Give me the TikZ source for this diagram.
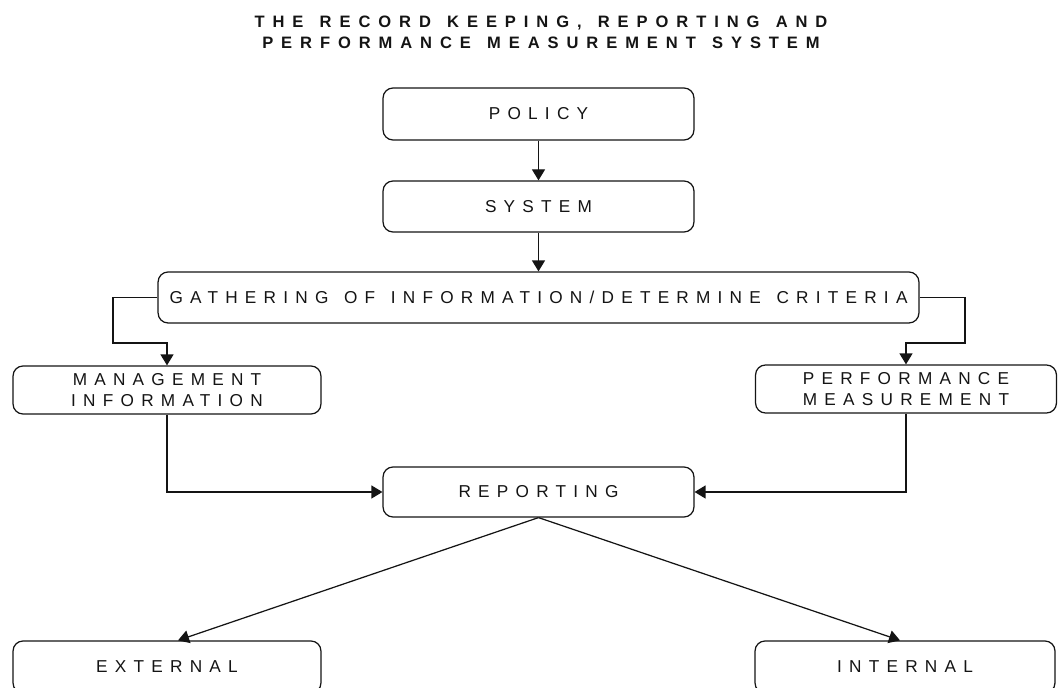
\documentclass[tikz,border=0pt]{standalone}
\usepackage{fontspec}
\setmainfont{Liberation Sans}
\newfontfamily\spacedfont[LetterSpace=42,WordSpace=1.3]{Liberation Sans}
\newfontfamily\titlefont[LetterSpace=48,WordSpace=1.3]{Liberation Sans}
\usetikzlibrary{arrows.meta,positioning}
\definecolor{rkink}{RGB}{20,20,20}

\begin{document}
\begin{tikzpicture}[
  x=0.02cm, y=-0.02cm,
  font=\spacedfont\fontsize{9.8}{11.5}\selectfont,
  flow/.style={-{Triangle[length=2.2mm,width=2.6mm]}, line width=0.7pt, draw=rkink},
  stage/.style={draw=rkink, line width=0.7pt, rounded corners=0.2cm, inner sep=0pt, text=rkink, align=center},
  heading/.style={text=rkink, font=\titlefont\bfseries\fontsize{9.4}{11.9}\selectfont, align=center}
]
\clip (0,0) rectangle (1059,688);
\fill[white] (0,0) rectangle (1059,688);

\node[heading] (title) at (541,32) {THE RECORD KEEPING, REPORTING AND\\PERFORMANCE MEASUREMENT SYSTEM};

\node[stage, minimum width=6.22cm, minimum height=1.04cm] (policy) at (538.5,114) {POLICY};
\node[stage, minimum width=6.22cm, minimum height=1.02cm] (system) at (538.5,206.5) {SYSTEM};
\node[stage, minimum width=15.22cm, minimum height=1.02cm] (gather) at (538.5,297.5) {GATHERING OF INFORMATION/DETERMINE CRITERIA};
\node[stage, minimum width=6.16cm, minimum height=0.96cm] (mgmt) at (167,390) {MANAGEMENT\\INFORMATION};
\node[stage, minimum width=6.02cm, minimum height=0.96cm] (perf) at (906,389) {PERFORMANCE\\MEASUREMENT};
\node[stage, minimum width=6.22cm, minimum height=1.0cm] (report) at (538.5,492) {REPORTING};
\node[stage, minimum width=6.16cm, minimum height=1.04cm] (ext) at (167,667) {EXTERNAL};
\node[stage, minimum width=6.0cm, minimum height=1.04cm] (int) at (905,667) {INTERNAL};

\coordinate (lbend) at (113,343);
\coordinate (rbend) at (965,343);

\draw[flow] (policy) -- (system);
\draw[flow] (system) -- (gather);
\draw[flow] (gather.west) -| (lbend) -- (lbend -| mgmt.north) -- (mgmt.north);
\draw[flow] (gather.east) -| (rbend) -- (rbend -| perf.north) -- (perf.north);
\draw[flow] (mgmt.south) |- (report.west);
\draw[flow] (perf.south) |- (report.east);
\draw[flow] (report.south) -- ([xshift=0.22cm]ext.north);
\draw[flow] (report.south) -- ([xshift=-0.1cm]int.north);
\end{tikzpicture}
\end{document}
